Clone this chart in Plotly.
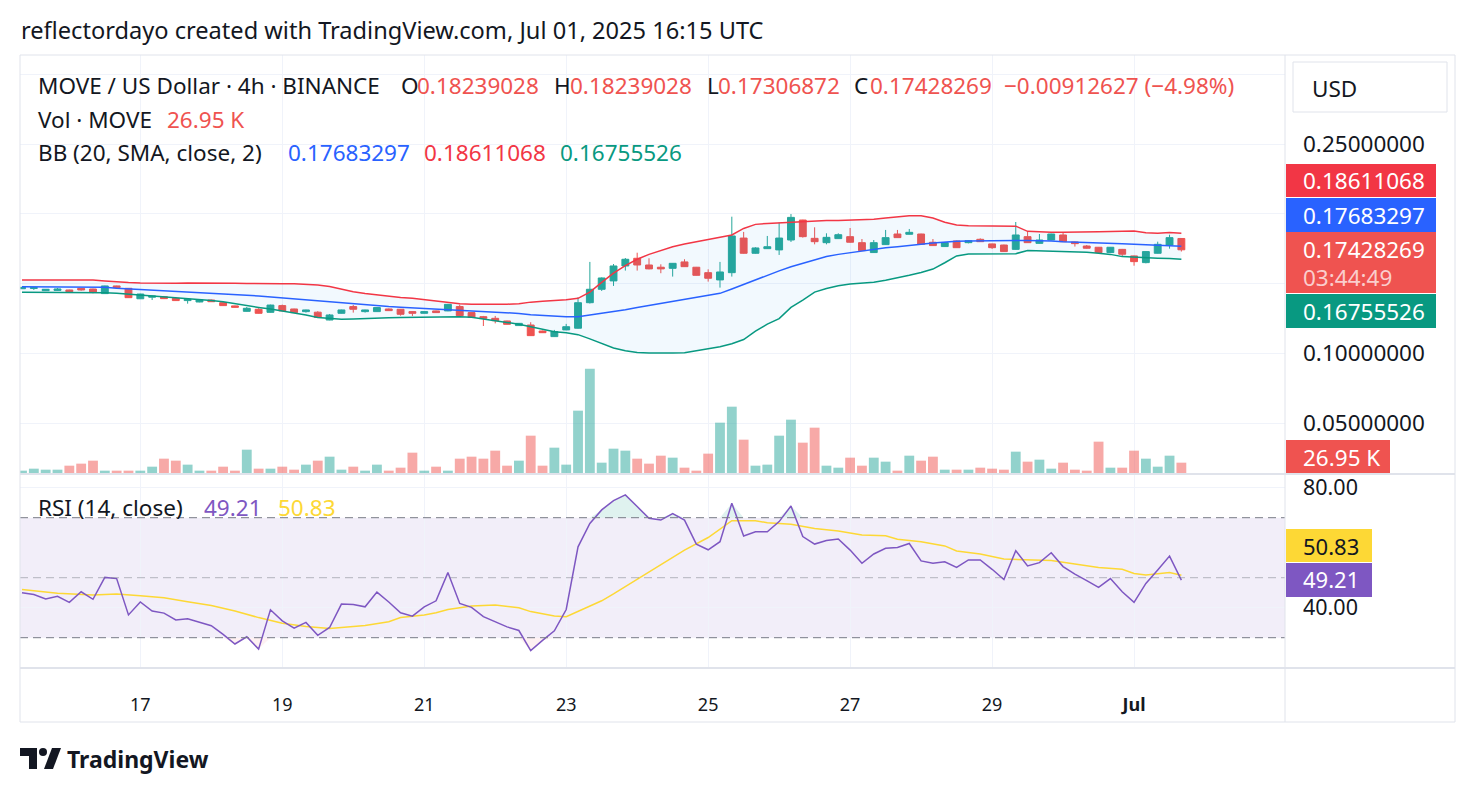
import plotly.graph_objects as go
import pandas as pd
import numpy as np

# ---------------- data ----------------
open_ = [.1464,.1466,.1450,.1452,.1455,.1467,.1462,.1429,.1484,.1467,
         .1392,.1403,.1407,.1395,.1379,.1369,.1383,.1364,.1341,.1302,
         .1317,.1295,.1343,.1319,.1300,.1296,.1240,.1288,.1336,.1300,
         .1300,.1319,.1317,.1300,.1288,.1305,.1305,.1336,.1293,.1264,
         .1252,.1233,.1200,.1204,.1161,.1121,.1169,.1181,.1364,.1460,
         .1520,.1627,.1682,.1634,.1618,.1610,.1656,.1618,.1579,.1527,
         .1579,.1827,.1718,.1751,.1742,.1813,.1956,.1825,.1794,.1823,
         .1837,.1794,.1723,.1780,.1856,.1854,.1856,.1797,.1766,.1806,
         .1794,.1818,.1785,.1777,.1746,.1837,.1789,.1813,.1849,.1799,
         .1770,.1761,.1723,.1746,.1699,.1651,.1718,.1777,.18239028]
high = [.1477,.1474,.1462,.1469,.1457,.1469,.1464,.1486,.1486,.1469,
        .1428,.1414,.1412,.1405,.1390,.1386,.1386,.1366,.1343,.1333,
        .1324,.1350,.1350,.1321,.1314,.1303,.1283,.1314,.1348,.1314,
        .1331,.1322,.1319,.1303,.1303,.1307,.1355,.1350,.1295,.1269,
        .1269,.1235,.1218,.1224,.1164,.1169,.1212,.1402,.1656,.1545,
        .1641,.1684,.1722,.1682,.1639,.1648,.1675,.1620,.1603,.1656,
        .1980,.1871,.1761,.1842,.1937,.1999,.1958,.1904,.1861,.1861,
        .1899,.1820,.1813,.1885,.1885,.1892,.1858,.1820,.1797,.1808,
        .1811,.1825,.1787,.1780,.1942,.1871,.1856,.1858,.1868,.1801,
        .1777,.1763,.1763,.1749,.1701,.1732,.1801,.1851,.18239028]
low = [.1462,.1455,.1448,.1450,.1441,.1450,.1431,.1427,.1470,.1398,
       .1390,.1383,.1390,.1377,.1357,.1367,.1369,.1341,.1329,.1300,
       .1286,.1293,.1303,.1291,.1293,.1256,.1238,.1286,.1293,.1293,
       .1298,.1305,.1271,.1269,.1286,.1291,.1303,.1269,.1257,.1197,
       .1216,.1207,.1198,.1126,.1147,.1119,.1167,.1178,.1358,.1448,
       .1484,.1594,.1594,.1603,.1575,.1551,.1620,.1558,.1515,.1472,
       .1551,.1715,.1715,.1749,.1706,.1799,.1830,.1782,.1782,.1821,
       .1794,.1735,.1721,.1778,.1828,.1852,.1780,.1770,.1763,.1756,
       .1789,.1799,.1749,.1728,.1744,.1792,.1787,.1811,.1799,.1766,
       .1751,.1716,.1721,.1694,.1629,.1646,.1716,.1751,.17306872]
close = [.1474,.1472,.1460,.1462,.1443,.1455,.1441,.1484,.1472,.1400,
         .1426,.1412,.1393,.1379,.1388,.1383,.1371,.1343,.1331,.1324,
         .1288,.1347,.1305,.1293,.1312,.1258,.1276,.1312,.1317,.1312,
         .1329,.1307,.1281,.1288,.1300,.1293,.1352,.1271,.1259,.1252,
         .1235,.1209,.1216,.1128,.1149,.1157,.1192,.1364,.1460,.1541,
         .1627,.1675,.1634,.1606,.1606,.1646,.1622,.1560,.1539,.1584,
         .1842,.1718,.1756,.1765,.1827,.1975,.1837,.1801,.1832,.1851,
         .1797,.1737,.1794,.1830,.1830,.1868,.1782,.1773,.1794,.1758,
         .1808,.1801,.1758,.1730,.1849,.1794,.1813,.1856,.1801,.1787,
         .1754,.1723,.1761,.1711,.1658,.1730,.1782,.1830,.17428269]
volume_k = [6.1,11.3,8.7,8.7,19.1,24.4,32.2,6.1,6.1,6.1,
            6.1,16.5,37.4,32.2,21.8,6.1,6.1,16.5,6.1,60.9,
            11.3,11.3,16.5,8.7,21.8,32.2,42.6,8.7,16.5,6.1,
            21.8,6.1,13.9,53.1,6.1,16.5,6.1,37.4,42.6,37.4,
            58.3,19.1,32.2,97.4,19.1,66.1,21.8,162.7,272.3,27.0,
            63.5,58.3,37.4,24.4,45.2,40.0,13.9,6.1,50.5,131.4,
            173.1,87.0,19.1,21.8,97.4,139.2,79.2,118.3,19.1,13.9,
            40.0,19.1,40.0,29.6,6.1,45.2,32.2,42.6,8.7,8.7,
            8.7,13.9,11.3,8.7,55.7,29.6,34.8,11.3,27.0,8.7,
            6.1,81.8,13.9,13.9,58.3,37.4,16.5,45.2,26.95]
bb_upper = [.1527,.1527,.1527,.1527,.1527,.1527,.1527,.1520,.1512,.1508,
            .1505,.1503,.1502,.1503,.1505,.1506,.1506,.1505,.1504,.1502,
            .1500,.1499,.1500,.1500,.1496,.1491,.1480,.1460,.1443,.1430,
            .1419,.1410,.1402,.1395,.1385,.1375,.1365,.1356,.1353,.1352,
            .1352,.1353,.1356,.1368,.1374,.1378,.1385,.1395,.1440,.1510,
            .1575,.1630,.1675,.1710,.1740,.1765,.1785,.1800,.1815,.1830,
            .1849,.1896,.1925,.1932,.1937,.1942,.1946,.1950,.1952,.1953,
            .1955,.1957,.1961,.1970,.1980,.1987,.1987,.1970,.1940,.1921,
            .1916,.1914,.1914,.1914,.1912,.1875,.1870,.1868,.1868,.1868,
            .1870,.1872,.1874,.1876,.1877,.1865,.1862,.1866,.18611068]
bb_basis = [.1479,.1479,.1479,.1479,.1479,.1479,.1479,.1475,.1467,.1463,
            .1459,.1455,.1451,.1447,.1443,.1439,.1435,.1431,.1425,.1418,
            .1412,.1405,.1398,.1390,.1383,.1376,.1368,.1360,.1353,.1346,
            .1340,.1336,.1332,.1328,.1324,.1320,.1316,.1311,.1307,.1302,
            .1297,.1292,.1287,.1278,.1272,.1266,.1264,.1264,.1276,.1288,
            .1300,.1314,.1330,.1345,.1358,.1372,.1388,.1402,.1416,.1431,
            .1462,.1495,.1530,.1560,.1592,.1622,.1648,.1672,.1695,.1710,
            .1722,.1735,.1746,.1758,.1765,.1772,.1782,.1792,.1800,.1804,
            .1806,.1808,.1809,.1809,.1809,.1809,.1809,.1806,.1801,.1799,
            .1796,.1794,.1790,.1786,.1782,.1779,.1777,.1772,.17683297]
bb_lower = [.1438,.1438,.1438,.1438,.1438,.1438,.1438,.1436,.1432,.1426,
            .1419,.1413,.1407,.1402,.1395,.1388,.1380,.1371,.1356,.1340,
            .1330,.1318,.1305,.1290,.1275,.1258,.1250,.1245,.1248,.1252,
            .1254,.1256,.1257,.1259,.1262,.1264,.1264,.1264,.1259,.1248,
            .1236,.1226,.1210,.1192,.1175,.1156,.1148,.1135,.1105,.1074,
            .1040,.1020,.1008,.1003,.1002,.1003,.1006,.1020,.1035,.1048,
            .1070,.1100,.1160,.1210,.1250,.1330,.1383,.1440,.1465,.1485,
            .1498,.1503,.1510,.1525,.1540,.1560,.1580,.1605,.1650,.1699,
            .1712,.1713,.1713,.1713,.1715,.1737,.1735,.1732,.1730,.1728,
            .1725,.1718,.1710,.1694,.1689,.1686,.1683,.1680,.16755526]
rsi = [45.0,44.4,42.9,43.8,41.8,45.3,42.8,50.1,49.7,37.6,
       41.9,38.9,38.2,35.9,36.3,35.1,34.0,31.1,27.9,30.3,
       26.2,39.3,35.6,33.2,35.1,30.8,33.4,41.2,41.1,40.3,
       45.2,41.9,38.3,37.2,40.3,42.3,51.7,41.4,40.1,37.0,
       35.4,33.6,32.4,25.7,29.1,32.3,39.4,60.3,68.1,72.6,
       75.7,77.6,73.7,69.8,69.2,71.4,69.2,61.2,59.3,62.0,
       74.8,63.9,65.3,65.3,68.7,73.9,63.7,61.2,62.4,62.9,
       59.2,54.8,57.9,59.8,60.1,61.4,55.6,54.8,55.3,53.4,
       55.9,55.9,52.8,49.4,59.0,53.9,55.0,58.3,53.7,51.2,
       49.0,46.8,49.7,45.3,41.8,48.1,52.6,57.2,49.21]
rsi_ma_idx = [0,3,6,8,10,12,14,16,18,20,22,24,26,28,29,31,32,34,35,36,38,40,42,43,45,46,47,48,49,50,
              52,54,56,58,60,62,63,65,67,69,71,73,74,76,78,79,81,83,85,87,89,91,93,94,95,97,98]
rsi_ma = [46.1,44.8,44.2,44.6,44.0,43.3,42.0,40.7,38.9,36.7,34.8,33.7,33.1,33.7,34.1,35.3,36.7,37.6,38.3,39.4,
          40.6,40.9,40.0,38.7,37.2,37.0,38.7,40.5,42.3,44.6,
          49.4,54.2,59.2,63.4,69.0,69.0,68.3,67.8,66.4,65.6,64.2,64.0,62.8,62.0,60.6,58.9,57.9,56.2,55.9,55.7,
          54.6,53.4,52.8,51.4,50.9,51.7,50.83]
day_ticks = ["2025-06-17", "2025-06-19", "2025-06-21", "2025-06-23",
             "2025-06-25", "2025-06-27", "2025-06-29", "2025-07-01"]
day_labels = ["17", "19", "21", "23", "25", "27", "29", "<b>Jul</b>"]
price_ticks = [0.05, 0.10, 0.15, 0.20, 0.25, 0.30]
price_tick_text = ["0.05000000", "0.10000000", "", "", "0.25000000", ""]

# ---------------- styling ----------------
FONT = "Noto Sans"
TXT = "#131722"
UP = "#26a69a"
DN = "#ef5350"
GRID = "#f0f3fa"
BORDER = "#e0e3eb"
FS = 22.5
W, H = 1476, 794
L, R, T, B = 20, 1285, 55, 668


def px(x):
    return (x - L) / (R - L)


def py(y):
    return (B - y) / (B - T)


t = pd.date_range("2025-06-15 08:00", periods=len(close), freq="4h")
step = pd.Timedelta(hours=4)
x_range = [t[0] - 0.17 * step, t[0] + 106.76 * step]
vol_colors = ["rgba(38,166,154,0.5)" if c >= o else "rgba(239,83,80,0.5)" for o, c in zip(open_, close)]

fig = go.Figure()
# Bollinger bands
fig.add_trace(go.Scatter(x=t, y=bb_upper, mode="lines", line=dict(color="#f23645", width=1.5),
                         hoverinfo="skip", showlegend=False))
fig.add_trace(go.Scatter(x=t, y=bb_lower, mode="lines", line=dict(color="#089981", width=1.5),
                         fill="tonexty", fillcolor="rgba(33,150,243,0.06)", hoverinfo="skip", showlegend=False))
fig.add_trace(go.Scatter(x=t, y=bb_basis, mode="lines", line=dict(color="#2962ff", width=1.5),
                         hoverinfo="skip", showlegend=False))
# volume
fig.add_trace(go.Bar(x=t, y=volume_k, marker=dict(color=vol_colors, line=dict(width=0)),
                     width=step.total_seconds() * 1000 * 0.83, yaxis="y3", showlegend=False))
# candles
fig.add_trace(go.Candlestick(x=t, open=open_, high=high, low=low, close=close,
                             increasing=dict(line=dict(color=UP, width=1), fillcolor=UP),
                             decreasing=dict(line=dict(color=DN, width=1), fillcolor=DN),
                             whiskerwidth=0, showlegend=False))
# RSI overbought / oversold fills
rsi_arr = np.array(rsi)
ob = np.maximum(rsi_arr, 70)
fig.add_trace(go.Scatter(x=t, y=[70] * len(t), mode="lines", line=dict(width=0), xaxis="x2", yaxis="y2",
                         hoverinfo="skip", showlegend=False))
fig.add_trace(go.Scatter(x=t, y=ob, mode="lines", line=dict(width=0), fill="tonexty",
                         fillcolor="rgba(8,153,129,0.13)", xaxis="x2", yaxis="y2",
                         hoverinfo="skip", showlegend=False))
os_ = np.minimum(rsi_arr, 30)
fig.add_trace(go.Scatter(x=t, y=[30] * len(t), mode="lines", line=dict(width=0), xaxis="x2", yaxis="y2",
                         hoverinfo="skip", showlegend=False))
fig.add_trace(go.Scatter(x=t, y=os_, mode="lines", line=dict(width=0), fill="tonexty",
                         fillcolor="rgba(242,54,69,0.07)", xaxis="x2", yaxis="y2",
                         hoverinfo="skip", showlegend=False))
# RSI + MA
fig.add_trace(go.Scatter(x=[t[i] for i in rsi_ma_idx], y=rsi_ma, mode="lines",
                         line=dict(color="#fdd835", width=1.5), xaxis="x2", yaxis="y2",
                         hoverinfo="skip", showlegend=False))
fig.add_trace(go.Scatter(x=t, y=rsi, mode="lines", line=dict(color="#7e57c2", width=1.5),
                         xaxis="x2", yaxis="y2", hoverinfo="skip", showlegend=False))

shapes = []
# RSI band and levels
shapes.append(dict(type="rect", xref="paper", yref="y2", x0=0, x1=1, y0=30, y1=70,
                   fillcolor="rgba(126,87,194,0.1)", line=dict(width=0), layer="below"))
for lvl, col in [(70, "#787b86"), (30, "#787b86"), (50, "rgba(120,123,134,0.5)")]:
    shapes.append(dict(type="line", xref="paper", yref="y2", x0=0, x1=1, y0=lvl, y1=lvl,
                       line=dict(color=col, width=1, dash="8px,5px")))


def hline(y, x0=L, x1=1455, color=BORDER, w=1):
    shapes.append(dict(type="line", xref="paper", yref="paper", x0=px(x0), x1=px(x1), y0=py(y), y1=py(y),
                       line=dict(color=color, width=w)))


def vline(x, y0=T, y1=722, color=BORDER, w=1):
    shapes.append(dict(type="line", xref="paper", yref="paper", x0=px(x), x1=px(x), y0=py(y0), y1=py(y1),
                       line=dict(color=color, width=w)))


hline(55)
hline(474, w=2)
hline(668, w=2)
hline(722)
vline(20)
vline(1285)
vline(1455)


def box(x0, x1, y0, y1, color):
    shapes.append(dict(type="rect", xref="paper", yref="paper", x0=px(x0), x1=px(x1), y0=py(y1), y1=py(y0),
                       fillcolor=color, line=dict(width=0), layer="above"))


annotations = []


def text(x, y, s, color=TXT, size=FS, anchor="left"):
    f = dict(family=FONT, size=size, color=color)
    annotations.append(dict(x=px(x), y=py(y), xref="paper", yref="paper", text=s, showarrow=False,
                            xanchor=anchor, yanchor="middle", font=f, borderpad=0))


# price-scale labels
box(1286, 1436, 164, 197, "#f23645"); text(1302, 181, "0.18611068", "white")
box(1286, 1436, 198, 232, "#2962ff"); text(1302, 215, "0.17683297", "white")
box(1286, 1436, 232, 293, "#ef5350"); text(1302, 249, "0.17428269", "white")
text(1302, 277, "03:44:49", "rgba(255,255,255,0.72)")
box(1286, 1436, 294, 328, "#089981"); text(1302, 311, "0.16755526", "white")
box(1286, 1390, 440, 473, "#ef5350"); text(1302, 457, "26.95 K", "white")
box(1286, 1372, 529, 562, "#fdd835"); text(1302, 546, "50.83", TXT, 22)
box(1286, 1372, 563, 597, "#7e57c2"); text(1302, 579, "49.21", "white", 22)

# USD button
shapes.append(dict(type="rect", xref="paper", yref="paper", x0=px(1293), x1=px(1447), y0=py(112), y1=py(62),
                   fillcolor="white", line=dict(color=BORDER, width=1)))
text(1311, 88, "USD", TXT)

# top title
text(20, 30, "reflectordayo created with TradingView.com, Jul 01, 2025 16:15 UTC", TXT, 23.6)

# legend lines
text(37, 86, "MOVE / US Dollar · 4h · BINANCE")
for x, s, c in [(400, "O", TXT), (416, "0.18239028", DN), (553, "H", TXT), (569, "0.18239028", DN),
                (706, "L", TXT), (717, "0.17306872", DN), (853, "C", TXT), (869, "0.17428269", DN),
                (1003, "−0.00912627 (−4.98%)", DN)]:
    text(x, 86, s, c)
text(37, 119, "Vol · MOVE"); text(166, 119, "26.95 K", DN)
text(37, 152, "BB (20, SMA, close, 2)")
text(287, 152, "0.17683297", "#2962ff"); text(423, 152, "0.18611068", "#f23645"); text(559, 152, "0.16755526", "#089981")
text(37, 507, "RSI (14, close)"); text(203, 507, "49.21", "#7e57c2"); text(277, 507, "50.83", "#fdd835")


# TradingView logo
def path_px(points):
    return "M " + " L ".join(f"{px(x):.5f},{py(y):.5f}" for x, y in points) + " Z"


shapes.append(dict(type="path", xref="paper", yref="paper",
                   path=path_px([(20, 748), (37, 748), (37, 769), (29, 769), (29, 756), (20, 756)]),
                   fillcolor=TXT, line=dict(width=0)))
shapes.append(dict(type="circle", xref="paper", yref="paper", x0=px(39), x1=px(47), y0=py(756), y1=py(748),
                   fillcolor=TXT, line=dict(width=0)))
shapes.append(dict(type="path", xref="paper", yref="paper",
                   path=path_px([(52, 748), (61, 748), (53, 769), (44, 769)]),
                   fillcolor=TXT, line=dict(width=0)))
text(66, 759, "<b>TradingView</b>", TXT, 23)

fig.update_layout(
    width=W, height=H,
    margin=dict(l=L, r=W - R, t=T, b=H - B),
    paper_bgcolor="white", plot_bgcolor="white",
    font=dict(family=FONT, color=TXT),
    showlegend=False, hovermode=False,
    boxgap=0.17,
    xaxis=dict(type="date", range=x_range, domain=[0, 1], anchor="y", tickvals=day_ticks,
               showticklabels=False, showgrid=True, gridcolor=GRID, zeroline=False, showline=False,
               rangeslider=dict(visible=False), fixedrange=True),
    xaxis2=dict(type="date", matches="x", range=x_range, domain=[0, 1], anchor="y2", tickvals=day_ticks,
                ticktext=day_labels, tickfont=dict(size=18, color=TXT, family=FONT),
                showgrid=True, gridcolor=GRID, zeroline=False, showline=False, ticks="",
                ticklabelstandoff=24, fixedrange=True),
    yaxis=dict(domain=[py(473), 1], range=[(493.1 - 473) / 1396, (493.1 - 55) / 1396], side="right",
               anchor="x", tickvals=price_ticks, ticktext=price_tick_text,
               tickfont=dict(size=FS, color=TXT, family=FONT), showgrid=True, gridcolor=GRID,
               zeroline=False, showline=False, ticks="", ticklabelstandoff=17, fixedrange=True),
    yaxis3=dict(overlaying="y", range=[0, 418 * 2.61], visible=False, fixedrange=True),
    yaxis2=dict(domain=[0, py(475)], range=[19.9, 84.23], side="right", anchor="x2",
                tickvals=[40, 80], ticktext=["40.00", "80.00"],
                tickfont=dict(size=21.5, color=TXT, family=FONT), showgrid=True, gridcolor=GRID,
                zeroline=False, showline=False, ticks="", ticklabelstandoff=17, fixedrange=True),
    shapes=shapes,
    annotations=annotations,
)

fig.write_html("out.html")
